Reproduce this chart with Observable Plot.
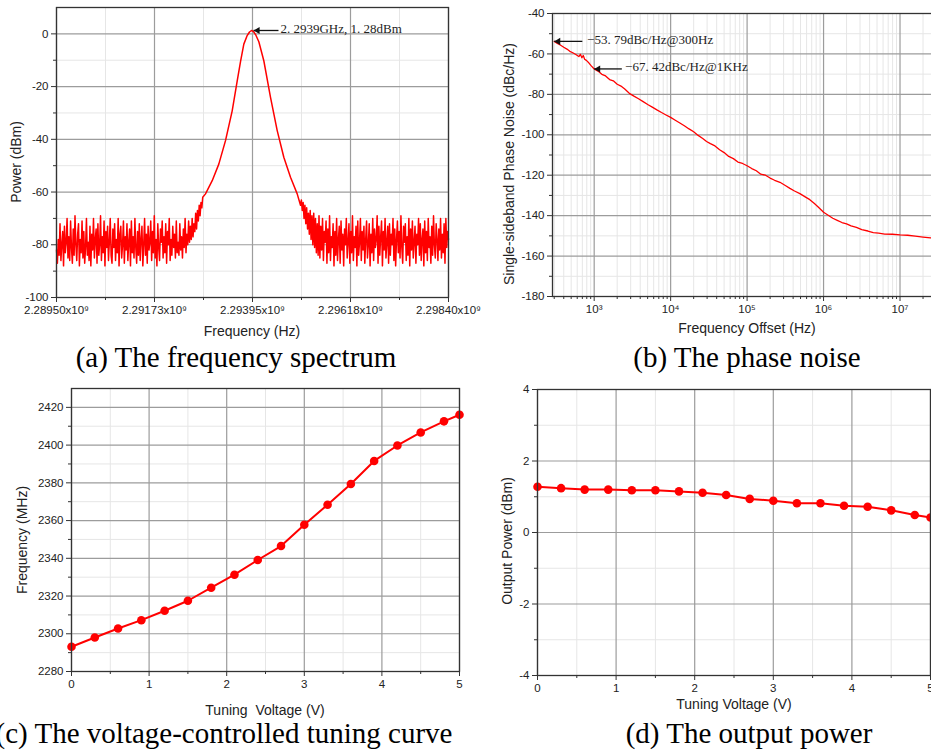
<!DOCTYPE html>
<html>
<head>
<meta charset="utf-8">
<script src="https://cdn.jsdelivr.net/npm/d3@7"></script>
<script src="https://cdn.jsdelivr.net/npm/@observablehq/plot@0.6"></script>
<style>
  html, body { margin: 0; padding: 0; background: #fff; }
  body { width: 931px; height: 756px; overflow: hidden; position: relative; }
  .ytitle, .xtitle { position: absolute; font-family: "Liberation Sans", Arial, sans-serif; font-size: 14px; color: #222; white-space: pre; line-height: 14px; }
  .ytitle { transform: translate(-50%, -50%) rotate(-90deg); }
  .xtitle { transform: translate(-50%, -50%); }
  .cap { position: absolute; font-family: "Liberation Serif", "Times New Roman", serif; font-size: 29px; line-height: 29px; color: #000; white-space: pre; transform: translateX(-50%); }
</style>
</head>
<body>
<div class="ytitle" style="left:16px; top:162px;">Power (dBm)</div>
<div class="xtitle" style="left:252px; top:331px;">Frequency (Hz)</div>
<div class="cap" style="left:236px; top:343px;">(a) The frequency spectrum</div>

<div class="ytitle" style="left:509px; top:164px;">Single-sideband Phase Noise (dBc/Hz)</div>
<div class="xtitle" style="left:747px; top:328px;">Frequency Offset (Hz)</div>
<div class="cap" style="left:747px; top:343px;">(b) The phase noise</div>

<div class="ytitle" style="left:22px; top:540px;">Frequency (MHz)</div>
<div class="xtitle" style="left:265px; top:710px;">Tuning  Voltage (V)</div>
<div class="cap" style="left:224px; top:719px;">(c) The voltage-controlled tuning curve</div>

<div class="ytitle" style="left:507px; top:541px;">Output Power (dBm)</div>
<div class="xtitle" style="left:734px; top:704px;">Tuning Voltage (V)</div>
<div class="cap" style="left:749px; top:719px;">(d) The output power</div>

<script>
// ---------------- (a) frequency spectrum ----------------
const noiseLeftStartGHz = 2.2895;
const noiseRightStartGHz = 2.29504;
const noiseStepGHz = 0.00002;
const noiseLeft = [
  -82,-87,-78,-84,-72,-86,-80,-75,-88,-73,-83,-79,-70,-85,-77,-86,-71,-81,-87,-74,
  -84,-69,-80,-86,-76,-72,-88,-78,-83,-71,-85,-75,-87,-81,-70,-84,-79,-86,-73,-88,
  -76,-82,-70,-85,-78,-74,-87,-72,-84,-80,-69,-86,-77,-83,-71,-88,-75,-81,-73,-86,
  -79,-70,-84,-87,-74,-81,-72,-86,-78,-83,-70,-88,-76,-73,-85,-80,-71,-87,-77,-82,
  -72,-86,-79,-74,-88,-71,-83,-77,-85,-70,-81,-87,-75,-84,-72,-86,-78,-73,-88,-80,
  -70,-84,-76,-87,-73,-82,-79,-71,-86,-75,-83,-69,-85,-78,-88,-72,-81,-86,-74,-79,
  -71,-85,-77,-83,-72,-87,-75,-80,-70,-86,-78,-84,-73,-81,-76,-85,-71,-83,-79,-84,
  -72,-82,-77,-85,-74,-81,-70,-83,-76,-80,-71,-79,-73,-78,-70,-77,-72,-75,-68,-74,
  -67,-71,-65,-69,-64,-66,-62
];
const peakFreqGHz = [2.292883, 2.293035, 2.293185, 2.293337, 2.293489, 2.293603, 2.293678, 2.293753, 2.293825, 2.293882,
                     2.293927, 2.293973, 2.294030, 2.294094, 2.294207, 2.294359, 2.294511, 2.294661, 2.294813, 2.294965];
const peakPowerDbm = [-60.7, -55.7, -49.4, -40.5, -29.2, -17.8, -10.5, -3.9, -0.8, 0.7,
                      1.28, 0.9, -0.6, -3, -10.2, -24.1, -36.7, -46.8, -54.4, -60.7];
const noiseRight = [
  -65,-63,-67,-64,-70,-65,-72,-66,-74,-68,-76,-67,-78,-69,-80,-68,-81,-70,-83,-72,
  -84,-69,-85,-73,-82,-70,-86,-75,-79,-71,-87,-74,-83,-69,-86,-77,-81,-72,-88,-75,
  -84,-70,-86,-78,-73,-87,-71,-82,-76,-88,-74,-80,-70,-85,-79,-72,-87,-75,-83,-69,
  -86,-77,-81,-73,-88,-71,-84,-79,-70,-86,-75,-82,-73,-87,-78,-71,-85,-80,-72,-88,
  -76,-83,-70,-86,-74,-81,-78,-69,-87,-73,-84,-77,-71,-88,-75,-82,-70,-85,-79,-73,
  -87,-72,-84,-76,-80,-70,-86,-74,-88,-78,-71,-83,-75,-85,-69,-81,-87,-73,-79,-72,
  -86,-77,-84,-70,-88,-74,-82,-71,-85,-79,-73,-87,-76,-80,-70,-84,-72,-86,-78,-74,
  -88,-71,-83,-75,-86,-70,-81,-77,-87,-73,-84,-69,-80,-85,-72,-78,-86,-74,-82,-70,
  -85,-76,-83,-72,-87,-70,-81,-75,-78
];
const aXTicks = [2.2895, 2.291725, 2.29395, 2.296175, 2.2984];
const aXLabels = ["2.28950x10⁹", "2.29173x10⁹", "2.29395x10⁹", "2.29618x10⁹", "2.29840x10⁹"];
const aXMinor = [2.2906125, 2.2928375, 2.2950625, 2.2972875];
const aYTicks = [-100, -80, -60, -40, -20, 0];
const aYMinor = [-90, -70, -50, -30, -10];
const aNotes = [{tipX: 2.293975, tailX: 2.29454, y: 1.28, label: "2. 2939GHz, 1. 28dBm"}];

// ---------------- (b) phase noise ----------------
const pnFreqHz = [300,330,360,400,440,480,525,575,630,660, 690,720,750,790,850,910,1000,1120,1260,1410,
  1590,1780,2000,2240,2510,2880,3310,3800,4370,5010, 5750,6610,7590,8710,10000,11500,13200,15100,17400,20000,
  22900,26300,29500,33100,38000,43700,50100,57500,66100,75900, 87100,100000,115000,132000,151000,174000,200000,229000,269000,316000,
  363000,417000,490000,575000,661000,759000,871000,1000000,1150000,1320000, 1510000,1740000,2000000,2290000,2690000,3160000,3800000,4470000,5250000,6310000,
  7940000,10000000,12600000,15800000,20000000,25100000,30000000];
const pnLevel = [-53.79,-54.8,-55.6,-56.7,-57.6,-58.7,-59.4,-60.3,-61.3,-60.2, -61.9,-60.8,-62.6,-63.2,-64.4,-65.8,-67.42,-68.5,-70.1,-70.9,
  -72.7,-73.3,-75.0,-75.9,-77.4,-79.5,-80.9,-82.2,-83.6,-85.0, -86.3,-87.7,-89.0,-90.2,-91.4,-92.8,-94.2,-95.5,-97.1,-98.5,
  -100.3,-101.8,-103.3,-104.4,-105.5,-107.4,-108.8,-110.7,-111.8,-113.5, -114.2,-115.3,-116.7,-117.8,-119.5,-120.0,-121.4,-122.5,-123.5,-125.1,
  -126.5,-127.8,-129.1,-130.7,-132.1,-134.0,-136.1,-138.3,-139.8,-141.3, -142.3,-143.4,-144.1,-145.1,-145.8,-146.9,-147.6,-148.4,-148.7,-149.1,
  -149.2,-149.5,-149.7,-150.1,-150.6,-151.0,-151.3];
const bXTicks = [1e3, 1e4, 1e5, 1e6, 1e7];
const bXLabels = ["10³", "10⁴", "10⁵", "10⁶", "10⁷"];
const bXMinor = [300,400,500,600,700,800,900, 2e3,3e3,4e3,5e3,6e3,7e3,8e3,9e3, 2e4,3e4,4e4,5e4,6e4,7e4,8e4,9e4,
  2e5,3e5,4e5,5e5,6e5,7e5,8e5,9e5, 2e6,3e6,4e6,5e6,6e6,7e6,8e6,9e6, 2e7];
const bYTicks = [-180, -160, -140, -120, -100, -80, -60, -40];
const bYMinor = [-170, -150, -130, -110, -90, -70, -50];
const bNotes = [
  {tipX: 300, tailX: 700, textX: 760, y: -53.79, label: "−53. 79dBc/Hz@300Hz"},
  {tipX: 1000, tailX: 2300, textX: 2390, y: -67.42, label: "−67. 42dBc/Hz@1KHz"}
];

// ---------------- (c) tuning curve & (d) output power ----------------
const tuningVoltage = [0, 0.3, 0.6, 0.9, 1.2, 1.5, 1.8, 2.1, 2.4, 2.7, 3.0, 3.3, 3.6, 3.9, 4.2, 4.5, 4.8, 5.0];
const tuningFreqMHz = [2293.1, 2298.0, 2302.8, 2307.2, 2312.2, 2317.5, 2324.4, 2331.3, 2339.1, 2346.5, 2357.8, 2368.4, 2379.4, 2391.6, 2399.8, 2406.7, 2412.6, 2416.1];
const outputPowerDbm = [1.28, 1.24, 1.20, 1.20, 1.18, 1.18, 1.15, 1.11, 1.05, 0.94, 0.89, 0.82, 0.82, 0.75, 0.72, 0.62, 0.49, 0.42];
const vTicks = [0, 1, 2, 3, 4, 5];
const vMinor = [0.5, 1.5, 2.5, 3.5, 4.5];
const cYTicks = [2280, 2300, 2320, 2340, 2360, 2380, 2400, 2420];
const cYMinor = [2290, 2310, 2330, 2350, 2370, 2390, 2410];
const dYTicks = [-4, -2, 0, 2, 4];
const dYMinor = [-3, -1, 1, 3];

// ---------------- shared styling ----------------
const RED = "#ff0000";
const baseStyle = {fontFamily: '"Liberation Sans", Arial, sans-serif', fontSize: "11.5px", color: "#222", background: "transparent", overflow: "visible"};
const minorGrid = {stroke: "#e6e6e6", strokeOpacity: 1, strokeWidth: 1};
const majorGrid = {stroke: "#9c9c9c", strokeOpacity: 1, strokeWidth: 1.2};
const frame = () => Plot.frame({stroke: "#333", strokeWidth: 1.3});
function axes(xMajor, xMinor, yMajor, yMinor, xFmt, yFmt) {
  return [
    Plot.axisX(xMinor, {tickSize: 3, tickFormat: () => "", stroke: "#333", label: null}),
    Plot.axisX(xMajor, {tickSize: 5, tickPadding: 3, tickFormat: xFmt, stroke: "#333", label: null}),
    Plot.axisY(yMinor, {tickSize: 3, tickFormat: () => "", stroke: "#333", label: null}),
    Plot.axisY(yMajor, {tickSize: 5, tickPadding: 3, tickFormat: yFmt, stroke: "#333", label: null})
  ];
}
function place(el, left, top) {
  el.style.position = "absolute";
  el.style.left = left + "px";
  el.style.top = top + "px";
  document.body.appendChild(el);
}
function notes(data, textKey) {
  return [
    Plot.link(data, {x1: "tailX", x2: "tipX", y1: "y", y2: "y", stroke: "#111", strokeWidth: 1.3}),
    Plot.dot(data, {x: "tipX", y: "y", symbol: "triangle", r: 2.6, rotate: -90, fill: "#111", stroke: "none", dx: 4}),
    Plot.text(data, {x: textKey, y: "y", text: "label", textAnchor: "start", dx: 2, dy: -2,
      fontFamily: '"Liberation Serif", "Times New Roman", serif', fontSize: 13, fill: "#222"})
  ];
}

// ---------------- (a) ----------------
const spectrum = [
  ...noiseLeft.map((p, i) => ({f: noiseLeftStartGHz + i * noiseStepGHz, p})),
  ...peakFreqGHz.map((f, i) => ({f, p: peakPowerDbm[i]})),
  ...noiseRight.map((p, i) => ({f: noiseRightStartGHz + i * noiseStepGHz, p}))
];
place(Plot.plot({
  width: 478, height: 320, marginLeft: 46, marginRight: 40, marginTop: 6, marginBottom: 24,
  style: baseStyle,
  x: {domain: [2.2895, 2.2984]},
  y: {domain: [-100, 10]},
  marks: [
    Plot.gridX(aXMinor, minorGrid), Plot.gridY(aYMinor, minorGrid),
    Plot.gridX(aXTicks, majorGrid), Plot.gridY(aYTicks, majorGrid),
    Plot.line(spectrum, {x: "f", y: "p", stroke: RED, strokeWidth: 1.5}),
    frame(),
    ...axes(aXTicks, aXMinor, aYTicks, aYMinor, d => aXLabels[aXTicks.indexOf(d)], d => String(d)),
    ...notes(aNotes, "tailX")
  ]
}), 10, 1);

// ---------------- (b) ----------------
const phaseNoise = pnFreqHz.map((f, i) => ({f, l: pnLevel[i]}));
place(Plot.plot({
  width: 442, height: 319, marginLeft: 48, marginRight: 10, marginTop: 8, marginBottom: 28,
  style: baseStyle,
  x: {type: "log", domain: [285, 3e7]},
  y: {domain: [-180, -40]},
  marks: [
    Plot.gridX(bXMinor, minorGrid), Plot.gridY(bYMinor, minorGrid),
    Plot.gridX(bXTicks, majorGrid), Plot.gridY(bYTicks, majorGrid),
    Plot.line(phaseNoise, {x: "f", y: "l", stroke: RED, strokeWidth: 1.3}),
    frame(),
    ...axes(bXTicks, bXMinor, bYTicks, bYMinor, d => bXLabels[bXTicks.indexOf(d)], d => String(d)),
    ...notes(bNotes, "textX")
  ]
}), 504, 5);

// ---------------- (c) ----------------
const tuning = tuningVoltage.map((v, i) => ({v, f: tuningFreqMHz[i]}));
place(Plot.plot({
  width: 442, height: 315, marginLeft: 42, marginRight: 12, marginTop: 6, marginBottom: 26,
  style: baseStyle,
  x: {domain: [0, 5]},
  y: {domain: [2280, 2430]},
  marks: [
    Plot.gridX(vMinor, minorGrid), Plot.gridY(cYMinor, minorGrid),
    Plot.gridX(vTicks, majorGrid), Plot.gridY(cYTicks, majorGrid),
    Plot.line(tuning, {x: "v", y: "f", stroke: RED, strokeWidth: 2}),
    Plot.dot(tuning, {x: "v", y: "f", r: 4.3, fill: RED}),
    frame(),
    ...axes(vTicks, vMinor, cYTicks, cYMinor, d => String(d), d => String(d))
  ]
}), 29, 382);

// ---------------- (d) ----------------
const power = tuningVoltage.map((v, i) => ({v, p: outputPowerDbm[i]}));
place(Plot.plot({
  width: 439, height: 316, marginLeft: 34, marginRight: 12, marginTop: 6, marginBottom: 24,
  style: baseStyle,
  x: {domain: [0, 5]},
  y: {domain: [-4, 4]},
  marks: [
    Plot.gridX(vMinor, minorGrid), Plot.gridY(dYMinor, minorGrid),
    Plot.gridX(vTicks, majorGrid), Plot.gridY(dYTicks, majorGrid),
    Plot.line(power, {x: "v", y: "p", stroke: RED, strokeWidth: 2}),
    Plot.dot(power, {x: "v", y: "p", r: 4.3, fill: RED}),
    frame(),
    ...axes(vTicks, vMinor, dYTicks, dYMinor, d => String(d), d => String(d))
  ]
}), 503, 383);
</script>
</body>
</html>
